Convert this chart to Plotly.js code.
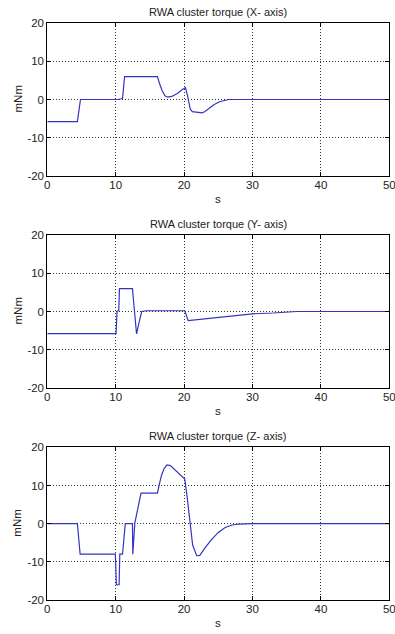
<!DOCTYPE html>
<html>
<head>
<meta charset="utf-8">
<script src="https://cdn.plot.ly/plotly-3.0.1.min.js"></script>
<style>
html,body{margin:0;padding:0;background:#fff;}
#chart{width:395px;height:634px;}
</style>
</head>
<body>
<div id="chart"></div>
<script>
// ---- data ----
const titles = ["RWA cluster torque (X- axis)", "RWA cluster torque (Y- axis)", "RWA cluster torque (Z- axis)"];
const xLabel = "s";
const yLabel = "mNm";
const xTickVals = [0, 10, 20, 30, 40, 50];
const xTickText = ["0", "10", "20", "30", "40", "50"];
const yTickVals = [-20, -10, 0, 10, 20];
const yTickText = ["-20", "-10", "0", "10", "20"];

const tX = [0, 4.4, 4.85, 10.3, 10.8, 11.0, 11.3, 16.1, 16.4, 16.8, 17.2, 17.6, 18.2, 19.0, 19.8, 20.2, 20.5, 20.9, 21.2, 22.0, 22.6, 23.0, 23.7, 24.4, 25.2, 26.0, 26.5, 50];
const torqueX = [-5.8, -5.8, 0, 0, 0.2, 0.3, 6.0, 6.0, 4.2, 2.3, 1.0, 0.6, 0.8, 1.6, 2.7, 3.1, 1.0, -2.5, -3.2, -3.4, -3.5, -3.2, -2.2, -1.3, -0.6, -0.15, 0, 0];

const tY = [0, 10.05, 10.2, 10.45, 10.55, 12.45, 12.6, 13.05, 13.4, 13.8, 14.5, 20.1, 20.6, 23, 25, 27.2, 30, 33, 36.3, 36.5, 50];
const torqueY = [-5.8, -5.8, 0, 0.3, 6.0, 6.0, 3.0, -5.9, -3.0, 0, 0.2, 0.2, -2.4, -1.9, -1.5, -1.1, -0.6, -0.4, -0.2, 0, 0];

const tZ = [0, 4.4, 4.8, 9.95, 10.1, 10.5, 10.6, 11.0, 11.4, 12.45, 12.5, 12.7, 12.8, 13.7, 16.1, 16.4, 16.7, 17.1, 17.5, 18.0, 20.1, 20.47, 20.86, 21.25, 21.84, 22.3, 23.0, 24.0, 25.0, 26.0, 27.0, 28.0, 30, 50];
const torqueZ = [0, 0, -8, -8, -16, -16, -8, -8, 0, 0, -8, 0, 0.2, 8, 8, 10.5, 12.7, 14.5, 15.4, 15.2, 11.7, 6.6, -0.4, -5.6, -8.4, -8.3, -6.5, -4.2, -2.3, -1.0, -0.35, -0.1, 0, 0];

// ---- layout helpers ----
const W = 395, H = 634;
const xDom = [47.3 / W, 389.3 / W];
const boxes = [[23.3, 175.7], [235.3, 387.7], [447.3, 600.0]]; // top, bottom in px
const yDoms = boxes.map(b => [1 - b[1] / H, 1 - b[0] / H]);

const lineColor = "#3434c0";
const font = {family: "Liberation Sans, Arial, sans-serif", size: 11, color: "#222"};

const series = [[tX, torqueX], [tY, torqueY], [tZ, torqueZ]];
const traces = series.map((s, i) => ({
  x: s[0], y: s[1], type: "scatter", mode: "lines",
  line: {color: lineColor, width: 1.2},
  xaxis: i === 0 ? "x" : "x" + (i + 1),
  yaxis: i === 0 ? "y" : "y" + (i + 1),
  hoverinfo: "skip"
}));

const layout = {
  width: W, height: H,
  margin: {l: 0, r: 0, t: 0, b: 0},
  paper_bgcolor: "#fff", plot_bgcolor: "#fff",
  showlegend: false,
  font: font,
  annotations: []
};

const axCommon = {
  showline: true, linecolor: "#000", linewidth: 1, mirror: "ticks",
  ticks: "inside", ticklen: 4, tickcolor: "#000", tickwidth: 1,
  showgrid: true, gridcolor: "#333", gridwidth: 1, griddash: "1px,2px",
  zeroline: false, fixedrange: true, ticklabeloverflow: "allow",
  tickfont: {family: font.family, size: 11.5, color: "#222"}
};

for (let i = 0; i < 3; i++) {
  const xk = i === 0 ? "xaxis" : "xaxis" + (i + 1);
  const yk = i === 0 ? "yaxis" : "yaxis" + (i + 1);
  const yid = i === 0 ? "y" : "y" + (i + 1);
  const xid = i === 0 ? "x" : "x" + (i + 1);
  layout[xk] = Object.assign({}, axCommon, {
    domain: xDom, anchor: yid, range: [0, 50],
    tickmode: "array", tickvals: xTickVals, ticktext: xTickText,
    ticklabelstandoff: -2
  });
  layout[yk] = Object.assign({}, axCommon, {
    domain: yDoms[i], anchor: xid, range: [-20, 20],
    tickmode: "array", tickvals: yTickVals, ticktext: yTickText
  });
  const top = boxes[i][0], bot = boxes[i][1];
  layout.annotations.push({
    text: titles[i], xref: "paper", yref: "paper",
    x: (xDom[0] + xDom[1]) / 2, y: 1 - (top - 11) / H,
    xanchor: "center", yanchor: "middle", showarrow: false,
    font: {family: font.family, size: 11, color: "#222"}
  });
  layout.annotations.push({
    text: xLabel, xref: "paper", yref: "paper",
    x: (xDom[0] + xDom[1]) / 2, y: 1 - (bot + 23) / H,
    xanchor: "center", yanchor: "middle", showarrow: false,
    font: {family: font.family, size: 11.5, color: "#222"}
  });
  layout.annotations.push({
    text: yLabel, xref: "paper", yref: "paper",
    x: 17 / W, y: 1 - ((top + bot) / 2) / H,
    xanchor: "center", yanchor: "middle", showarrow: false, textangle: -90,
    font: {family: font.family, size: 11.5, color: "#222"}
  });
}

Plotly.newPlot("chart", traces, layout, {staticPlot: true, displayModeBar: false});
</script>
</body>
</html>
